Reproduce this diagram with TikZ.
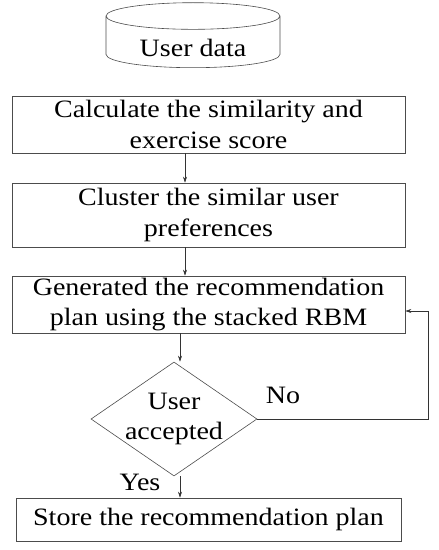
\documentclass[tikz,border=0pt]{standalone}
\usepackage{fontspec}
\setmainfont{Liberation Serif}[FakeStretch=1.12]
\usetikzlibrary{shapes.geometric,arrows.meta}

\tikzset{
  proc/.style={draw=black!70, line width=0.6pt, rectangle, inner sep=0pt, align=center,
    font=\fontsize{25}{30.5}\selectfont},
  store/.style={draw=black!70, line width=0.6pt, cylinder, shape border rotate=90, aspect=0.25,
    minimum width=174pt, minimum height=65pt, inner sep=0pt, font=\fontsize{25}{30}\selectfont},
  decide/.style={draw=black!70, line width=0.6pt, diamond, inner sep=0pt,
    minimum width=166pt, minimum height=114pt},
  lbl/.style={inner sep=0pt, font=\fontsize{25}{30}\selectfont},
  arr/.style={draw=black!80, line width=0.6pt, -{Stealth[length=6pt,width=4pt]}}
}

\begin{document}
\begin{tikzpicture}[x=1pt, y=-1pt]
    \useasboundingbox (0,0) rectangle (439,550);

    % ノード
    \node[store] (data) at (193,42) {\raisebox{-8pt}[17pt][5pt]{User data}};
    \node[proc, minimum width=393pt, minimum height=57pt] (calc) at (208.5,124.5)
      {Calculate the similarity and\\exercise score};
    \node[proc, minimum width=393pt, minimum height=64pt] (clus) at (208.5,215)
      {Cluster the similar user\\preferences};
    \node[proc, minimum width=393pt, minimum height=57pt] (gen) at (208.5,304.5)
      {Generated the recommendation\\plan using the stacked RBM};
    \node[decide, label={[lbl, align=center]center:User\\accepted}] (acc) at (174,419) {};
    \node[proc, minimum width=385pt, minimum height=43pt] (save) at (208.5,519.5)
      {Store the recommendation plan};

    % ラベル
    \node[lbl] (no) at (283,395) {No};
    \node[lbl] (yes) at (140,482) {Yes};

    % エッジ
    \draw[arr] ([xshift=-23.5pt]calc.south) -- ([xshift=-23.5pt]clus.north);
    \draw[arr] ([xshift=-23.5pt]clus.south) -- ([xshift=-23.5pt]gen.north);
    \draw[arr] ([xshift=6pt]acc.north |- gen.south) -- ([xshift=6pt]acc.north);
    \draw[arr] ([xshift=6pt]acc.south) -- ([xshift=6pt]acc.south |- save.north);
    \draw[arr] (acc.east) -- ++(171,0) |- ([yshift=-6.5pt]gen.east);
\end{tikzpicture}
\end{document}
